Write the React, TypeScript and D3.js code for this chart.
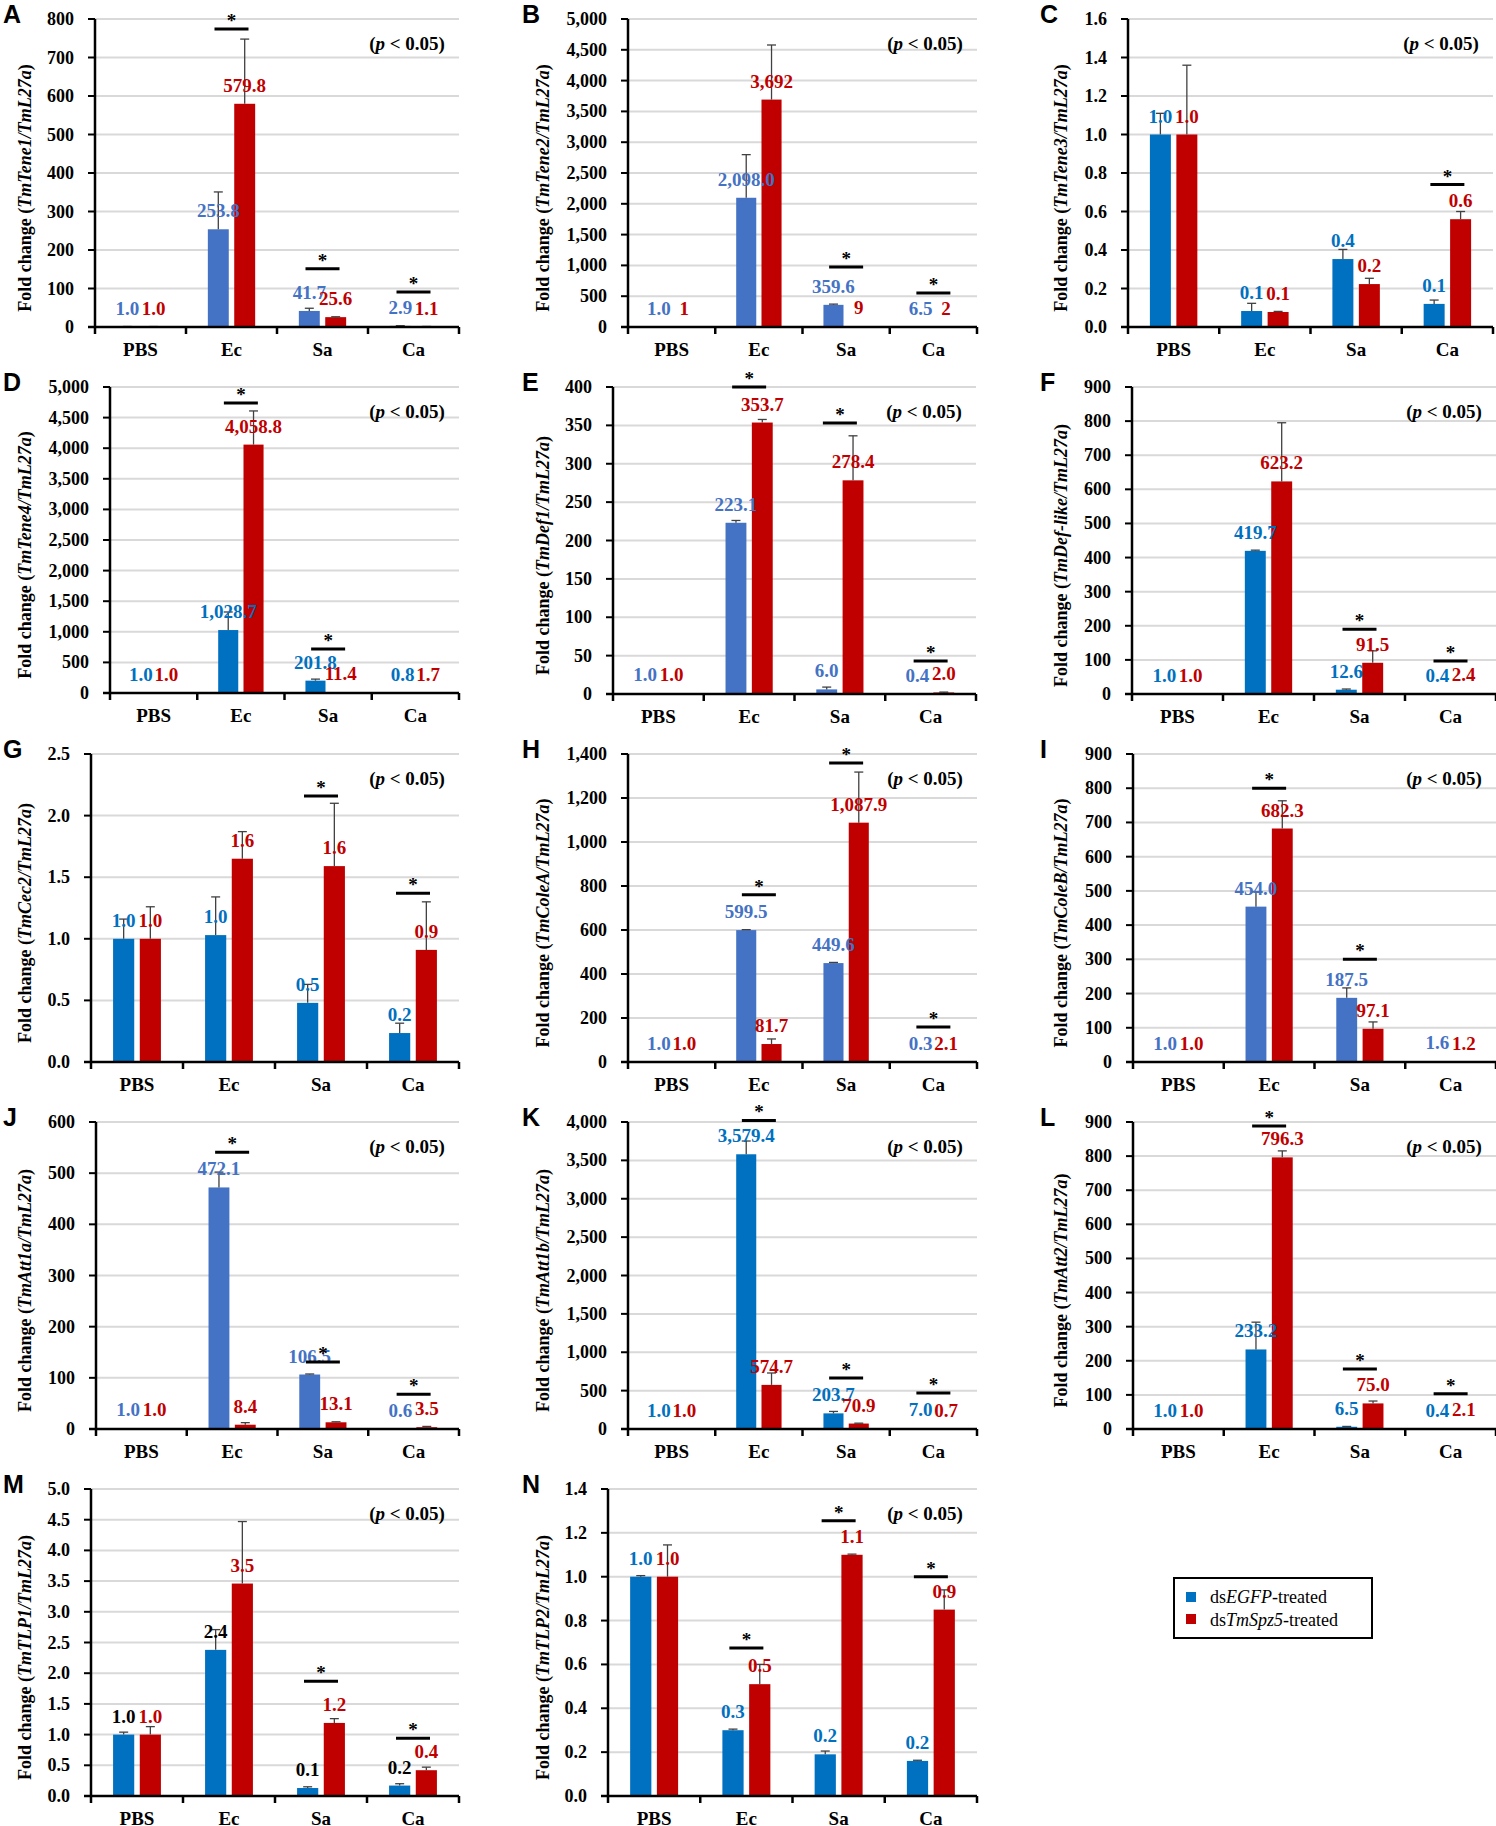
import * as d3 from 'd3';
import { useEffect, useRef } from 'react';

// infection groups on the x axis
const categories = ['PBS', 'Ec', 'Sa', 'Ca'];

const panelLetters = ['A', 'B', 'C', 'D', 'E', 'F', 'G', 'H', 'I', 'J', 'K', 'L', 'M', 'N'];
const genes = [
  'TmTene1', 'TmTene2', 'TmTene3', 'TmTene4', 'TmDef1', 'TmDef-like', 'TmCec2',
  'TmColeA', 'TmColeB', 'TmAtt1a', 'TmAtt1b', 'TmAtt2', 'TmTLP1', 'TmTLP2',
];
const yMaxes = [800, 5000, 1.6, 5000, 400, 900, 2.5, 1400, 900, 600, 4000, 900, 5, 1.4];
const ySteps = [100, 500, 0.2, 500, 50, 100, 0.5, 200, 100, 100, 500, 100, 0.5, 0.2];

// dsEGFP-treated (blue) means / SE, per panel, per category
const egfpMeans = [
  [1.0, 253.8, 41.7, 2.9],
  [1.0, 2098.0, 359.6, 6.5],
  [1.0, 0.083, 0.353, 0.12],
  [1.0, 1028.7, 201.8, 0.8],
  [1.0, 223.1, 6.0, 0.4],
  [1.0, 419.7, 12.6, 0.4],
  [1.0, 1.03, 0.48, 0.235],
  [1.0, 599.5, 449.6, 0.3],
  [1.0, 454.0, 187.5, 1.6],
  [1.0, 472.1, 106.5, 0.6],
  [1.0, 3579.4, 203.7, 7.0],
  [1.0, 233.2, 6.5, 0.4],
  [1.0, 2.38, 0.13, 0.17],
  [1.0, 0.30, 0.19, 0.16],
];
const egfpErrors = [
  [0.3, 97, 7, 0.5],
  [0, 700, 12, 0],
  [0.11, 0.04, 0.05, 0.02],
  [0, 295, 25, 0],
  [0, 3, 3, 0],
  [0, 2, 2, 0],
  [0.16, 0.31, 0.15, 0.08],
  [0, 2, 3, 0],
  [0, 43, 29, 0],
  [0, 30, 1, 0],
  [0, 173, 25, 0],
  [0, 80, 1, 0],
  [0.04, 0.33, 0.02, 0.03],
  [0.005, 0.005, 0.015, 0.003],
];
const egfpLabels = [
  ['1.0', '253.8', '41.7', '2.9'],
  ['1.0', '2,098.0', '359.6', '6.5'],
  ['1.0', '0.1', '0.4', '0.1'],
  ['1.0', '1,028.7', '201.8', '0.8'],
  ['1.0', '223.1', '6.0', '0.4'],
  ['1.0', '419.7', '12.6', '0.4'],
  ['1.0', '1.0', '0.5', '0.2'],
  ['1.0', '599.5', '449.6', '0.3'],
  ['1.0', '454.0', '187.5', '1.6'],
  ['1.0', '472.1', '106.5', '0.6'],
  ['1.0', '3,579.4', '203.7', '7.0'],
  ['1.0', '233.2', '6.5', '0.4'],
  ['1.0', '2.4', '0.1', '0.2'],
  ['1.0', '0.3', '0.2', '0.2'],
];

// dsTmSpz5-treated (red)
const spz5Means = [
  [1.0, 579.8, 25.6, 1.1],
  [1, 3692, 9, 2],
  [1.0, 0.078, 0.223, 0.56],
  [1.0, 4058.8, 11.4, 1.7],
  [1.0, 353.7, 278.4, 2.0],
  [1.0, 623.2, 91.5, 2.4],
  [1.0, 1.65, 1.59, 0.91],
  [1.0, 81.7, 1087.9, 2.1],
  [1.0, 682.3, 97.1, 1.2],
  [1.0, 8.4, 13.1, 3.5],
  [1.0, 574.7, 70.9, 0.7],
  [1.0, 796.3, 75.0, 2.1],
  [1.0, 3.46, 1.19, 0.42],
  [1.0, 0.51, 1.10, 0.85],
];
const spz5Errors = [
  [0.2, 168, 1, 0.3],
  [0, 886, 0, 0],
  [0.36, 0.003, 0.03, 0.04],
  [0, 550, 0, 0],
  [0, 4, 58, 0.5],
  [0, 172, 35, 0],
  [0.26, 0.22, 0.51, 0.39],
  [0, 23, 230, 0],
  [0, 81, 20, 0],
  [0, 4, 1, 1.5],
  [0, 155, 5, 0],
  [0, 19, 7, 0],
  [0.13, 1.01, 0.07, 0.05],
  [0.145, 0.09, 0.003, 0.09],
];
const spz5Labels = [
  ['1.0', '579.8', '25.6', '1.1'],
  ['1', '3,692', '9', '2'],
  ['1.0', '0.1', '0.2', '0.6'],
  ['1.0', '4,058.8', '11.4', '1.7'],
  ['1.0', '353.7', '278.4', '2.0'],
  ['1.0', '623.2', '91.5', '2.4'],
  ['1.0', '1.6', '1.6', '0.9'],
  ['1.0', '81.7', '1,087.9', '2.1'],
  ['1.0', '682.3', '97.1', '1.2'],
  ['1.0', '8.4', '13.1', '3.5'],
  ['1.0', '574.7', '70.9', '0.7'],
  ['1.0', '796.3', '75.0', '2.1'],
  ['1.0', '3.5', '1.2', '0.4'],
  ['1.0', '0.5', '1.1', '0.9'],
];

// height (data units) of the "*" significance bar, null = none
const sigLevels = [
  [null, 774, 151, 91],
  [null, null, 975, 552],
  [null, null, null, 0.74],
  [null, 4739, 719, null],
  [null, 400, 353, 43],
  [null, null, 190, 97],
  [null, null, 2.16, 1.37],
  [null, 760, 1359, 159],
  [null, 800, 300, null],
  [null, 541, 131, 68],
  [null, 4020, 665, 469],
  [null, 888, 176, 103],
  [null, null, 1.87, 0.94],
  [null, 0.675, 1.255, 1.0],
];

// layout: [axis x, right x, top y, baseline y]
const panelBoxes = [
  [95, 459, 19, 327], [628, 977, 19, 327], [1128, 1493, 19, 327],
  [110, 459, 387, 693], [613, 976, 387, 694], [1132, 1496, 387, 694],
  [91, 459, 754, 1062], [628, 977, 754, 1062], [1133, 1496, 754, 1062],
  [96, 459, 1122, 1429], [628, 977, 1122, 1429], [1133, 1496, 1122, 1429],
  [91, 459, 1489, 1796], [608, 977, 1489, 1796],
];
const titleX = [25, 543, 1061];
const letterX = [3, 522, 1040];
const LIGHT = '#4472C4';
const DARK = '#0070C0';
const RED = '#C00000';
const egfpShade = [LIGHT, LIGHT, DARK, DARK, LIGHT, DARK, DARK, LIGHT, LIGHT, LIGHT, DARK, DARK, DARK, DARK];
const SERIF = '"Times New Roman", "Liberation Serif", serif';

export default function App() {
  const ref = useRef<SVGSVGElement | null>(null);

  useEffect(() => {
    if (!ref.current) return;
    const svg = d3.select(ref.current);
    svg.selectAll('*').remove();
    svg.attr('viewBox', '0 0 1496 1826');

    panelLetters.forEach((letter, i) => {
      const [ax, rx, top, base] = panelBoxes[i];
      const col = i < 12 ? i % 3 : i - 12;
      const g = svg.append('g');

      const x = d3.scaleBand<string>().domain(categories).range([ax, rx]);
      const y = d3.scaleLinear().domain([0, yMaxes[i]]).range([base, top]);
      const ticks = d3.range(0, yMaxes[i] + ySteps[i] / 2, ySteps[i]);
      const fmt = ySteps[i] < 1 ? d3.format('.1f') : d3.format(',');
      const band = x.bandwidth();
      const bw = band * 0.23;
      const gap = band * 0.06;

      // gridlines
      ticks.filter((t) => t > 0).forEach((t) => {
        g.append('line')
          .attr('x1', ax).attr('x2', rx).attr('y1', y(t)).attr('y2', y(t))
          .attr('stroke', '#D9D9D9').attr('stroke-width', 2);
      });

      const series = [
        { means: egfpMeans[i], errs: egfpErrors[i], labels: egfpLabels[i], fill: egfpShade[i],
          text: i === 12 ? '#000' : egfpShade[i], dx: -gap / 2 - bw },
        { means: spz5Means[i], errs: spz5Errors[i], labels: spz5Labels[i], fill: RED, text: RED, dx: gap / 2 },
      ];

      series.forEach((s) => {
        categories.forEach((c, k) => {
          const cx = (x(c) || 0) + band / 2;
          const bx = cx + s.dx;
          const v = s.means[k];
          g.append('rect')
            .attr('x', bx).attr('y', y(v)).attr('width', bw).attr('height', base - y(v))
            .attr('fill', s.fill);
          const e = s.errs[k];
          if (e > 0) {
            const mx = bx + bw / 2;
            g.append('line').attr('x1', mx).attr('x2', mx).attr('y1', y(v)).attr('y2', y(v + e))
              .attr('stroke', '#404040').attr('stroke-width', 1.3);
            g.append('line').attr('x1', mx - 4.5).attr('x2', mx + 4.5).attr('y1', y(v + e)).attr('y2', y(v + e))
              .attr('stroke', '#404040').attr('stroke-width', 1.3);
          }
        });
      });

      // axes
      g.append('line').attr('x1', ax).attr('x2', ax).attr('y1', top).attr('y2', base)
        .attr('stroke', '#000').attr('stroke-width', 2.5);
      g.append('line').attr('x1', ax - 7).attr('x2', rx).attr('y1', base).attr('y2', base)
        .attr('stroke', '#000').attr('stroke-width', 2.5);
      ticks.forEach((t) => {
        g.append('line').attr('x1', ax - 7).attr('x2', ax).attr('y1', y(t)).attr('y2', y(t))
          .attr('stroke', '#000').attr('stroke-width', 2);
        g.append('text').attr('x', ax - 21).attr('y', y(t) + 6)
          .attr('text-anchor', 'end').style('font', `bold 18px ${SERIF}`).text(fmt(t));
      });
      d3.range(categories.length + 1).forEach((k) => {
        const tx = ax + k * band;
        g.append('line').attr('x1', tx).attr('x2', tx).attr('y1', base).attr('y2', base + 7)
          .attr('stroke', '#000').attr('stroke-width', 2.5);
      });
      categories.forEach((c) => {
        g.append('text').attr('x', (x(c) || 0) + band / 2).attr('y', base + 29)
          .attr('text-anchor', 'middle').style('font', `bold 19px ${SERIF}`).text(c);
      });

      // value labels
      series.forEach((s) => {
        categories.forEach((c, k) => {
          const cx = (x(c) || 0) + band / 2 + s.dx + bw / 2;
          g.append('text').attr('x', cx).attr('y', y(s.means[k]) - 12)
            .attr('text-anchor', 'middle').attr('fill', s.text)
            .style('font', `bold 19px ${SERIF}`).text(s.labels[k]);
        });
      });

      // significance bars
      categories.forEach((c, k) => {
        const lv = sigLevels[i][k];
        if (lv === null) return;
        const cx = (x(c) || 0) + band / 2;
        g.append('line').attr('x1', cx - 17).attr('x2', cx + 17).attr('y1', y(lv)).attr('y2', y(lv))
          .attr('stroke', '#000').attr('stroke-width', 3);
        g.append('text').attr('x', cx).attr('y', y(lv) - 2).attr('text-anchor', 'middle')
          .style('font', `bold 19px ${SERIF}`).text('*');
      });

      // (p < 0.05)
      const pt = g.append('text').attr('x', rx - 52).attr('y', top + 31).attr('text-anchor', 'middle')
        .style('font', `bold 19px ${SERIF}`);
      pt.append('tspan').text('(');
      pt.append('tspan').attr('font-style', 'italic').text('p');
      pt.append('tspan').text(' < 0.05)');

      // y title
      const yt = g.append('text')
        .attr('transform', `translate(${titleX[col]},${(top + base) / 2 + 15}) rotate(-90)`)
        .attr('text-anchor', 'middle').attr('dominant-baseline', 'central')
        .style('font', `bold 18px ${SERIF}`);
      yt.append('tspan').text('Fold change (');
      yt.append('tspan').attr('font-style', 'italic').text(`${genes[i]}/TmL27a`);
      yt.append('tspan').text(')');

      // panel letter
      g.append('text').attr('x', letterX[col]).attr('y', top + 4)
        .style('font', 'bold 25px Arial, "Liberation Sans", sans-serif').text(letter);
    });

    // legend
    const lg = svg.append('g');
    lg.append('rect').attr('x', 1174).attr('y', 1578).attr('width', 198).attr('height', 60)
      .attr('fill', '#fff').attr('stroke', '#000').attr('stroke-width', 2);
    [
      { pre: 'ds', it: 'EGFP', post: '-treated', color: DARK },
      { pre: 'ds', it: 'TmSpz5', post: '-treated', color: RED },
    ].forEach((d, k) => {
      lg.append('rect').attr('x', 1186).attr('y', 1592 + k * 22).attr('width', 10).attr('height', 10)
        .attr('fill', d.color);
      const t = lg.append('text').attr('x', 1210).attr('y', 1603 + k * 23)
        .style('font', `18px ${SERIF}`);
      t.append('tspan').text(d.pre);
      t.append('tspan').attr('font-style', 'italic').text(d.it);
      t.append('tspan').text(d.post);
    });
  }, []);

  return (
    <svg
      ref={ref}
      width={1496}
      height={1826}
      style={{ position: 'absolute', left: 0, top: 0, background: '#fff' }}
      role="img"
      aria-label="Fold change of AMP genes after dsRNA treatment"
    />
  );
}
